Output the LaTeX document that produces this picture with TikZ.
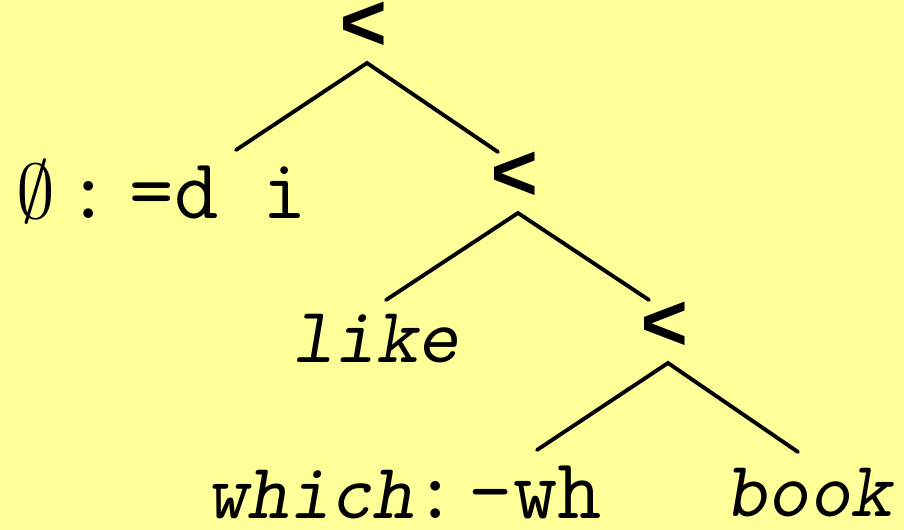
\documentclass[tikz,border=0pt]{standalone}
\usepackage{fix-cm}
\usepackage{fontspec}
\newfontfamily\mergefont{Liberation Mono}
\usetikzlibrary{positioning}
\definecolor{cpaper}{HTML}{FFFF99}
\tikzset{
  every picture/.style={line width=2.2pt},
  lbl/.style={font=\ttfamily\fontsize{49}{56}\selectfont, inner sep=0pt},
  merge/.style={lbl, font=\mergefont\bfseries\fontsize{46}{54}\selectfont},
  leaf/.style={lbl, anchor=base},
  word/.style={leaf, font=\ttfamily\slshape\fontsize{45}{52}\selectfont},
  branch/.style={draw=black, line cap=round},
}

\begin{document}
\begin{tikzpicture}[x=0.02cm, y=-0.02cm]
  % paper
  \fill[cpaper] (0,0) rectangle (904,530);
  % merge points down the right spine
  \foreach \k/\x/\y in {1/367/63, 2/518/213, 3/668/363} {
    \coordinate (t\k) at (\x,\y);
    \node[merge] (m\k) at (\x-3,\y-37) {<};
  }
  % lower ends of the branches
  \coordinate (l1) at (236,150); \coordinate (r1) at (498,152);
  \coordinate (l2) at (386,300); \coordinate (r2) at (649,300);
  \coordinate (l3) at (537,450); \coordinate (r3) at (798,452);
  \foreach \k in {1,2,3} \draw[branch] (l\k) -- (t\k) -- (r\k);
  % leaves
  \node[leaf] (sel) at (162,219) {\scalebox{0.9}{$\emptyset$}\hspace{6pt}:\hspace{11pt}=d i};
  \node[word] (like) at (376,363) {like};
  \node[leaf] (which) at (404,519) {{\slshape\fontsize{45}{52}\selectfont which}:\hspace{6pt}-wh};
  \node[word] (book) at (809,517) {book};
\end{tikzpicture}
\end{document}
